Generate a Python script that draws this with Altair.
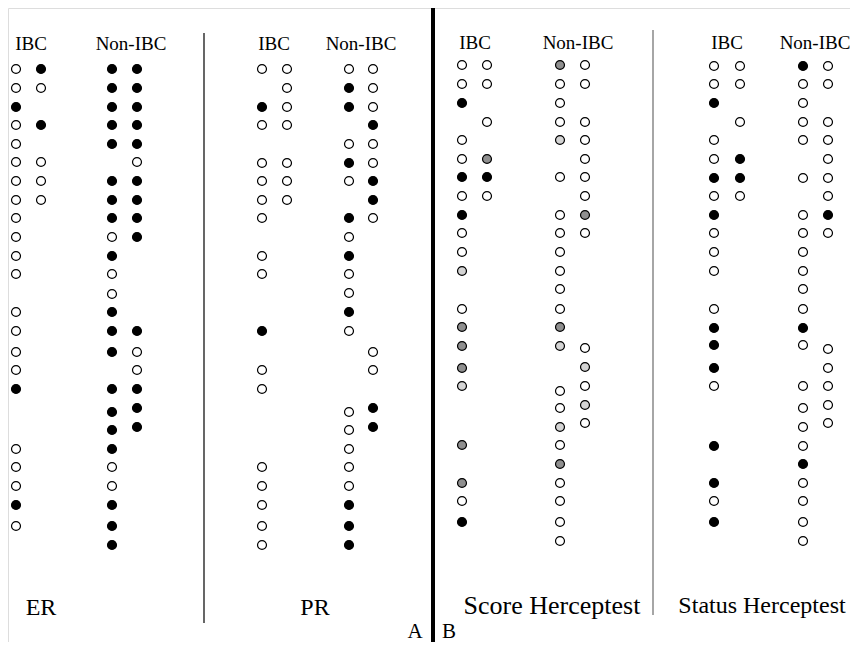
import altair as alt
import pandas as pd

# ---- values: (level, status) ----
# status: O = negative (white), B = positive (black), G = score 2+ (grey), L = score 1+ (light grey)
ER_IBC_1 = [(69,"O"),(88,"O"),(107,"B"),(125,"O"),(144,"O"),(162,"O"),(181,"O"),(200,"O"),(218,"O"),(237,"O"),(256,"O"),(274,"O"),(312,"O"),(331,"O"),(352,"O"),(370,"O"),(389,"B"),(449,"O"),(467,"O"),(486,"O"),(505,"B"),(526,"O")]
ER_IBC_2 = [(69,"B"),(88,"O"),(125,"B"),(162,"O"),(181,"O"),(200,"O")]
ER_NON_1 = [(69,"B"),(88,"B"),(107,"B"),(125,"B"),(144,"B"),(181,"B"),(200,"B"),(218,"B"),(237,"O"),(256,"B"),(274,"O"),(294,"O"),(312,"B"),(331,"B"),(352,"B"),(389,"B"),(412,"B"),(430,"B"),(449,"B"),(467,"O"),(486,"O"),(505,"B"),(526,"B"),(545,"B")]
ER_NON_2 = [(69,"B"),(88,"B"),(107,"B"),(125,"B"),(144,"B"),(162,"O"),(181,"B"),(200,"B"),(218,"B"),(237,"B"),(331,"B"),(352,"O"),(370,"O"),(389,"B"),(408,"B"),(427,"B")]

PR_IBC_1 = [(69,"O"),(107,"B"),(125,"O"),(163,"O"),(181,"O"),(200,"O"),(218,"O"),(256,"O"),(274,"O"),(331,"B"),(370,"O"),(389,"O"),(467,"O"),(486,"O"),(505,"O"),(526,"O"),(545,"O")]
PR_IBC_2 = [(69,"O"),(88,"O"),(107,"O"),(125,"O"),(163,"O"),(181,"O"),(200,"O")]
PR_NON_1 = [(69,"O"),(88,"B"),(107,"B"),(144,"O"),(163,"B"),(181,"O"),(218,"B"),(237,"O"),(256,"B"),(274,"O"),(293,"O"),(312,"B"),(331,"O"),(412,"O"),(430,"O"),(449,"O"),(467,"O"),(486,"O"),(505,"B"),(526,"B"),(545,"B")]
PR_NON_2 = [(69,"O"),(88,"O"),(107,"O"),(125,"B"),(144,"O"),(163,"O"),(181,"B"),(200,"B"),(218,"O"),(352,"O"),(370,"O"),(408,"B"),(427,"B")]

SC_IBC_1 = [(65,"O"),(84,"O"),(103,"B"),(140,"O"),(159,"O"),(177,"B"),(196,"O"),(215,"B"),(233,"O"),(252,"O"),(271,"L"),(309,"O"),(327,"G"),(346,"G"),(368,"G"),(386,"L"),(445,"G"),(483,"G"),(501,"O"),(522,"B")]
SC_IBC_2 = [(65,"O"),(84,"O"),(122,"O"),(159,"G"),(177,"B"),(196,"O")]
SC_NON_1 = [(65,"G"),(84,"O"),(103,"O"),(122,"O"),(140,"L"),(177,"O"),(215,"O"),(233,"O"),(252,"O"),(271,"O"),(289,"O"),(309,"O"),(327,"G"),(346,"L"),(391,"O"),(408,"O"),(427,"L"),(445,"O"),(464,"G"),(483,"O"),(501,"O"),(522,"O"),(541,"O")]
SC_NON_2 = [(65,"O"),(84,"O"),(122,"O"),(140,"O"),(159,"O"),(177,"O"),(196,"O"),(215,"G"),(233,"O"),(348,"O"),(367,"L"),(386,"O"),(405,"L"),(423,"O")]

ST_IBC_1 = [(66,"O"),(84,"O"),(103,"B"),(140,"O"),(159,"O"),(178,"B"),(196,"O"),(215,"B"),(233,"O"),(252,"O"),(271,"O"),(309,"O"),(328,"B"),(345,"B"),(368,"B"),(386,"O"),(446,"B"),(483,"B"),(501,"O"),(522,"B")]
ST_IBC_2 = [(66,"O"),(84,"O"),(122,"O"),(159,"B"),(178,"B"),(196,"O")]
ST_NON_1 = [(66,"B"),(84,"O"),(103,"O"),(122,"O"),(140,"O"),(178,"O"),(215,"O"),(233,"O"),(252,"O"),(271,"O"),(289,"O"),(309,"O"),(328,"B"),(345,"O"),(386,"O"),(408,"O"),(427,"O"),(446,"O"),(464,"B"),(483,"O"),(501,"O"),(522,"O"),(541,"O")]
ST_NON_2 = [(66,"O"),(84,"O"),(122,"O"),(140,"O"),(159,"O"),(178,"O"),(196,"O"),(215,"B"),(233,"O"),(349,"O"),(368,"O"),(386,"O"),(405,"O"),(423,"O")]

COLUMNS = [ER_IBC_1, ER_IBC_2, ER_NON_1, ER_NON_2,
           PR_IBC_1, PR_IBC_2, PR_NON_1, PR_NON_2,
           SC_IBC_1, SC_IBC_2, SC_NON_1, SC_NON_2,
           ST_IBC_1, ST_IBC_2, ST_NON_1, ST_NON_2]

HEADERS = ["IBC", "Non-IBC", "IBC", "Non-IBC", "IBC", "Non-IBC", "IBC", "Non-IBC"]
PANEL_LABELS = ["ER", "PR", "Score Herceptest", "Status Herceptest"]
PART_LABELS = ["A", "B"]

# ---- layout ----
COL_X = [16, 41, 112, 137, 262, 287, 349, 373, 462, 487, 560, 585, 714, 740, 803, 828]
HEADER_POS = [(31, 49.5), (131, 49.5), (274, 49.5), (361, 49.5), (475, 48.5), (578, 48.5), (727, 48.5), (815, 48.5)]
PANEL_POS = [(41, 615), (315, 615), (552, 614), (762, 613)]
PANEL_FS = [24, 24, 26, 24]
PART_POS = [(415, 638), (449, 638)]
RULES = [(204, 33, 623, "black", 1.2), (433, 7, 642, "black", 4), (653, 30, 615, "#888888", 1.5)]

dot_rows = []
for cx, col in zip(COL_X, COLUMNS):
    for lvl, code in col:
        dot_rows.append({"x": cx, "y": lvl, "code": code})
dots_df = pd.DataFrame(dot_rows)

text_rows = []
for (tx, ty), t in zip(HEADER_POS, HEADERS):
    text_rows.append({"x": tx, "y": ty, "text": t, "fs": 19})
for (tx, ty), t, fs in zip(PANEL_POS, PANEL_LABELS, PANEL_FS):
    text_rows.append({"x": tx, "y": ty, "text": t, "fs": fs})
for (tx, ty), t in zip(PART_POS, PART_LABELS):
    text_rows.append({"x": tx, "y": ty, "text": t, "fs": 21})
text_df = pd.DataFrame(text_rows)

rule_df = pd.DataFrame([{"x": r[0], "y": r[1], "y2": r[2], "c": r[3], "w": r[4]} for r in RULES])

XS = alt.Scale(domain=[8, 850])
YS = alt.Scale(domain=[8, 642], reverse=True)

rules = alt.Chart(rule_df).mark_rule().encode(
    x=alt.X("x:Q", scale=XS, axis=None),
    y=alt.Y("y:Q", scale=YS, axis=None),
    y2="y2:Q",
    color=alt.Color("c:N", scale=None),
    strokeWidth=alt.StrokeWidth("w:Q", scale=None),
)

dots = alt.Chart(dots_df).mark_circle(size=80, stroke="black", strokeWidth=1.2, opacity=1).encode(
    x=alt.X("x:Q", scale=XS, axis=None),
    y=alt.Y("y:Q", scale=YS, axis=None),
    fill=alt.Fill("code:N", scale=alt.Scale(domain=["O", "B", "G", "L"],
                                            range=["white", "black", "#8f8f8f", "#d4d4d4"]), legend=None),
)

texts = alt.Chart(text_df).mark_text(font="Liberation Serif", align="center",
                                     baseline="alphabetic", color="black").encode(
    x=alt.X("x:Q", scale=XS, axis=None),
    y=alt.Y("y:Q", scale=YS, axis=None),
    text="text:N",
    size=alt.Size("fs:Q", scale=None),
)

chart = alt.layer(rules, dots, texts).properties(
    width=842, height=634,
    autosize=alt.AutoSizeParams(type="none"),
    padding=0,
).configure_view(stroke=None).configure(background="white")

chart.save("out.html", embed_options={"renderer": "svg", "actions": False})
